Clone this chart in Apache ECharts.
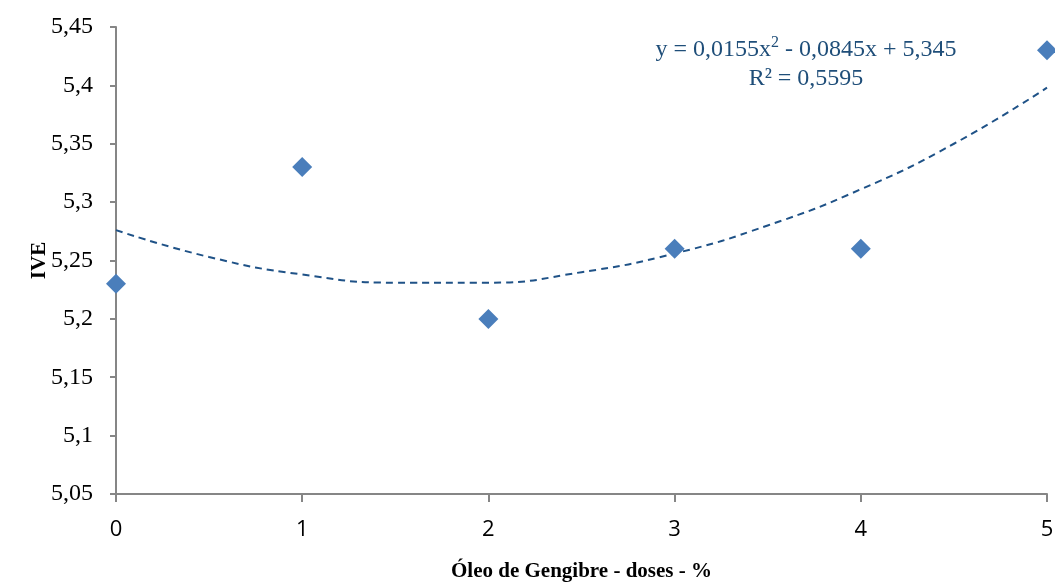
<!DOCTYPE html>
<html>
<head>
    <meta charset="utf-8">
    <script src="https://cdn.jsdelivr.net/npm/echarts@6/dist/echarts.min.js"></script>
    <style>
        html, body { margin: 0; padding: 0; background: #fff; }
        #main { width: 1055px; height: 582px; }
    </style>
</head>
<body>
<div id="main"></div>
<script type="text/javascript">
    // doses de óleo (%) e IVE observado
    var doses = [0, 1, 2, 3, 4, 5];
    var ive = [5.23, 5.33, 5.20, 5.26, 5.26, 5.43];
    // linha de tendência (polinomial)
    var trendX = [0, 0.5, 1, 1.5, 2, 2.5, 3, 3.5, 4, 4.5, 5];
    var trendY = [5.276, 5.253, 5.238, 5.231, 5.231, 5.240, 5.256, 5.280, 5.311, 5.350, 5.398];
    var yTicks = [5.05, 5.1, 5.15, 5.2, 5.25, 5.3, 5.35, 5.4, 5.45];

    var pontos = doses.map(function (d, i) { return [d, ive[i]]; });
    var tendencia = trendX.map(function (d, i) { return [d, trendY[i]]; });

    var myChart = echarts.init(document.getElementById('main'));
    var option = {
        animation: false,
        grid: { left: 116, right: 8, top: 27, bottom: 88, containLabel: false, outerBoundsMode: 'none' },
        xAxis: {
            type: 'value',
            min: 0, max: 5, interval: 1,
            name: 'Óleo de Gengibre - doses - %',
            nameLocation: 'middle',
            nameGap: 67,
            nameTextStyle: { fontFamily: 'Liberation Serif', fontWeight: 'bold', fontSize: 21, color: '#000' },
            axisLine: { lineStyle: { color: '#868686', width: 2 } },
            axisTick: { show: true, length: 8, lineStyle: { color: '#868686', width: 2 } },
            axisLabel: { fontFamily: 'Open Sans', fontSize: 22, color: '#000', margin: 25 },
            splitLine: { show: false }
        },
        yAxis: {
            type: 'value',
            min: 5.05, max: 5.45, interval: 0.05,
            name: 'IVE',
            nameLocation: 'middle',
            nameGap: 66,
            nameMoveOverlap: false,
            nameRotate: 90,
            nameTextStyle: { fontFamily: 'Liberation Serif', fontWeight: 'bold', fontSize: 21, color: '#000' },
            axisLine: { show: true, lineStyle: { color: '#868686', width: 2 } },
            axisTick: { show: true, length: 6, lineStyle: { color: '#868686', width: 2 } },
            axisLabel: {
                fontFamily: 'Liberation Serif', fontSize: 24, color: '#000', margin: 23,
                formatter: function (v) {
                    var t = yTicks.filter(function (k) { return Math.abs(k - v) < 1e-6; })[0];
                    return String(+(t !== undefined ? t : v).toFixed(2)).replace('.', ',');
                }
            },
            splitLine: { show: false }
        },
        series: [
            {
                name: 'tendencia',
                type: 'line',
                data: tendencia,
                smooth: true,
                showSymbol: false,
                lineStyle: { color: '#1F5287', width: 2, type: [7, 5] },
                z: 2
            },
            {
                name: 'IVE',
                type: 'scatter',
                data: pontos,
                symbol: 'diamond',
                symbolSize: [20, 20],
                itemStyle: { color: '#4A7EBB', opacity: 1 },
                z: 3
            }
        ],
        graphic: [
            {
                type: 'text',
                x: 806, y: 35,
                style: {
                    text: '{t|y = 0,0155x}{s|2}{t| - 0,0845x + 5,345}\n{t|R² = 0,5595}',
                    align: 'center',
                    rich: {
                        t: { fontFamily: 'Liberation Serif', fontSize: 24, fill: '#1F4E79', lineHeight: 29, align: 'center' },
                        s: { fontFamily: 'Liberation Serif', fontSize: 16, fill: '#1F4E79', verticalAlign: 'top', padding: [0, 0, 10, 0] }
                    }
                }
            }
        ]
    };
    myChart.setOption(option);
</script>
</body>
</html>
